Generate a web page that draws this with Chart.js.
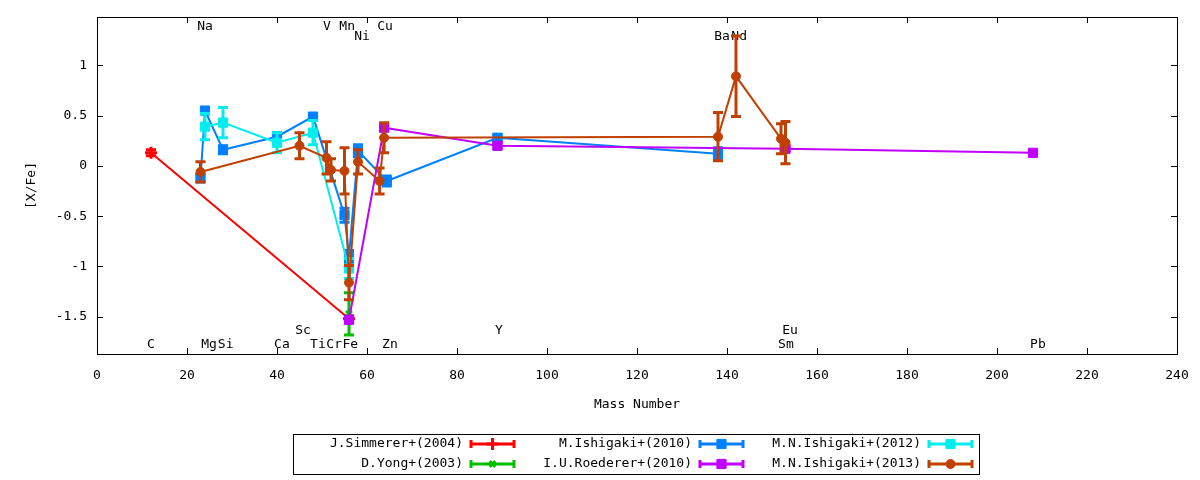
<!DOCTYPE html>
<html>
<head>
<meta charset="utf-8">
<script src="https://cdn.jsdelivr.net/npm/chart.js@4.4.1/dist/chart.umd.min.js"></script>
<style>
  html, body { margin: 0; padding: 0; background: #fff; }
  #wrap { width: 1200px; height: 480px; position: relative; }
</style>
</head>
<body>
<div id="wrap"><canvas id="chart"></canvas></div>
<script>
const FONT = "'DejaVu Sans Mono', monospace";

// axes
const X_TICKS = [0, 20, 40, 60, 80, 100, 120, 140, 160, 180, 200, 220, 240];
const Y_TICKS = [-1.5, -1, -0.5, 0, 0.5, 1];

// element names written over the plot (mass, level)
const ELEM_NAMES = ['C', 'Mg', 'Si', 'Na', 'Ca', 'Sc', 'Ti', 'Cr', 'Fe', 'V', 'Mn', 'Ni', 'Cu', 'Zn', 'Y', 'Ba', 'Nd', 'Eu', 'Sm', 'Pb'];
const ELEM_X     = [12, 24.9, 28.6, 24, 41.1, 45.8, 49.1, 52.7, 56.3, 51.1, 55.6, 58.9, 64, 65.1, 89.3, 138.9, 142.7, 154, 153.1, 209.1];
const ELEM_Y     = [-1.78, -1.78, -1.78, 1.38, -1.78, -1.64, -1.78, -1.78, -1.78, 1.38, 1.38, 1.28, 1.38, -1.78, -1.64, 1.28, 1.28, -1.64, -1.78, -1.78];

// series
const SIMMERER_X   = [12, 56];
const SIMMERER_Y   = [0.13, -1.52];
const SIMMERER_ERR = [0.03, 0.03];

const YONG_X   = [56];
const YONG_Y   = [-1.47];
const YONG_ERR = [0.21];

const ISHIGAKI10_X   = [23, 24, 28, 40, 48, 55, 56, 58, 64.4, 89, 138];
const ISHIGAKI10_Y   = [-0.12, 0.55, 0.16, 0.29, 0.49, -0.49, -0.9, 0.15, -0.15, 0.28, 0.12];
const ISHIGAKI10_ERR = [0.04, 0.03, 0.04, 0.04, 0.03, 0.07, 0.06, 0.06, 0.05, 0.03, 0.06];

const ROEDERER_X   = [56, 63.8, 89, 153, 208];
const ROEDERER_Y   = [-1.53, 0.38, 0.2, 0.17, 0.13];
const ROEDERER_ERR = [0.03, 0.03, 0.03, 0.02, 0.02];

const ISHIGAKI12_X   = [24, 28, 40, 48, 56];
const ISHIGAKI12_Y   = [0.39, 0.43, 0.23, 0.33, -1.02];
const ISHIGAKI12_ERR = [0.13, 0.15, 0.1, 0.12, 0.1];

const ISHIGAKI13_X   = [23, 45, 51, 52, 55, 56, 58, 62.8, 63.8, 138, 142, 152, 153];
const ISHIGAKI13_Y   = [-0.06, 0.2, 0.08, -0.04, -0.05, -1.16, 0.04, -0.15, 0.28, 0.29, 0.89, 0.27, 0.23];
const ISHIGAKI13_ERR = [0.1, 0.13, 0.16, 0.11, 0.23, 0.17, 0.12, 0.13, 0.15, 0.24, 0.4, 0.15, 0.21];

function series(label, color, style, radius, xs, ys, errs) {
    return {
        label,
        data: xs.map((x, i) => ({ x, y: ys[i] })),
        errors: errs,
        showLine: true,
        borderColor: color,
        backgroundColor: color,
        borderWidth: 2,
        pointStyle: style,
        pointRadius: radius,
        pointBorderWidth: style === 'cross' || style === 'crossRot' ? 3 : 1,
        tension: 0,
    };
}

const datasets = [
    series('J.Simmerer+(2004)',   '#ff0000', 'cross',    6,   SIMMERER_X,   SIMMERER_Y,   SIMMERER_ERR),
    series('D.Yong+(2003)',       '#00c000', 'crossRot', 4,   YONG_X,       YONG_Y,       YONG_ERR),
    series('M.Ishigaki+(2010)',   '#0080ff', 'rect',     6.5, ISHIGAKI10_X, ISHIGAKI10_Y, ISHIGAKI10_ERR),
    series('I.U.Roederer+(2010)', '#c000ff', 'rect',     6.5, ROEDERER_X,   ROEDERER_Y,   ROEDERER_ERR),
    series('M.N.Ishigaki+(2012)', '#00eeee', 'rect',     6.5, ISHIGAKI12_X, ISHIGAKI12_Y, ISHIGAKI12_ERR),
    series('M.N.Ishigaki+(2013)', '#c04000', 'circle',   4.5, ISHIGAKI13_X, ISHIGAKI13_Y, ISHIGAKI13_ERR),
];
// later series are painted on top, like gnuplot does
datasets.forEach((d, i) => { d.order = datasets.length - i; });

// --- error bars, drawn with each dataset ---
const errorBars = {
    id: 'errorBars',
    afterDatasetDraw(chart, args) {
        const ds = chart.data.datasets[args.index];
        if (!ds.errors) return;
        const xs = chart.scales.x, ys = chart.scales.y, ctx = chart.ctx;
        ctx.save();
        ctx.strokeStyle = ds.borderColor;
        ctx.lineWidth = 3;
        ds.data.forEach((p, i) => {
            const e = ds.errors[i];
            const px = xs.getPixelForValue(p.x);
            const top = ys.getPixelForValue(p.y + e);
            const bot = ys.getPixelForValue(p.y - e);
            ctx.beginPath();
            ctx.moveTo(px, top); ctx.lineTo(px, bot);
            ctx.moveTo(px - 5, top); ctx.lineTo(px + 5, top);
            ctx.moveTo(px - 5, bot); ctx.lineTo(px + 5, bot);
            ctx.stroke();
        });
        ctx.restore();
    }
};

// --- frame with inward ticks on all four sides, plus element names ---
const frame = {
    id: 'frame',
    beforeDatasetsDraw(chart) {
        const { ctx, chartArea: a } = chart;
        const xs = chart.scales.x, ys = chart.scales.y;
        ctx.save();
        ctx.strokeStyle = '#000';
        ctx.lineWidth = 1;
        ctx.strokeRect(a.left + 0.5, a.top + 0.5, a.right - a.left, a.bottom - a.top);
        ctx.beginPath();
        X_TICKS.forEach(v => {
            const px = Math.round(xs.getPixelForValue(v)) + 0.5;
            ctx.moveTo(px, a.bottom); ctx.lineTo(px, a.bottom - 6);
            ctx.moveTo(px, a.top); ctx.lineTo(px, a.top + 6);
        });
        Y_TICKS.forEach(v => {
            const py = Math.round(ys.getPixelForValue(v)) + 0.5;
            ctx.moveTo(a.left, py); ctx.lineTo(a.left + 6, py);
            ctx.moveTo(a.right, py); ctx.lineTo(a.right - 6, py);
        });
        ctx.stroke();

        ctx.fillStyle = '#000';
        ctx.font = '13px ' + FONT;
        ctx.textAlign = 'center';
        ctx.textBaseline = 'middle';
        ELEM_NAMES.forEach((n, i) => {
            ctx.fillText(n, xs.getPixelForValue(ELEM_X[i]), ys.getPixelForValue(ELEM_Y[i]));
        });
        ctx.restore();
    }
};

// --- gnuplot style key below the plot ---
const key = {
    id: 'key',
    afterDraw(chart) {
        const ctx = chart.ctx;
        const boxL = 293, boxT = 434, boxR = 979, boxB = 474;
        const rowY = [444, 464];
        const colStart = 471, colPitch = 229, sampleLen = 43;
        ctx.save();
        ctx.strokeStyle = '#000';
        ctx.lineWidth = 1;
        ctx.strokeRect(boxL + 0.5, boxT + 0.5, boxR - boxL, boxB - boxT);
        ctx.font = '13px ' + FONT;
        ctx.textAlign = 'right';
        ctx.textBaseline = 'middle';
        chart.data.datasets.forEach((ds, i) => {
            const col = Math.floor(i / 2), row = i % 2;
            const sx = colStart + col * colPitch, y = rowY[row];
            ctx.fillStyle = '#000';
            ctx.fillText(ds.label, sx - 8, y);
            ctx.strokeStyle = ds.borderColor;
            ctx.fillStyle = ds.backgroundColor;
            ctx.lineWidth = 3;
            ctx.beginPath();
            ctx.moveTo(sx, y); ctx.lineTo(sx + sampleLen, y);
            ctx.moveTo(sx, y - 4); ctx.lineTo(sx, y + 4);
            ctx.moveTo(sx + sampleLen, y - 4); ctx.lineTo(sx + sampleLen, y + 4);
            ctx.stroke();
            ctx.lineWidth = ds.pointBorderWidth;
            Chart.helpers.drawPoint(ctx, {
                pointStyle: ds.pointStyle, radius: ds.pointRadius, rotation: 0, borderWidth: ds.pointBorderWidth
            }, sx + sampleLen / 2, y);
        });
        ctx.restore();
    }
};

new Chart(document.getElementById('chart'), {
    type: 'scatter',
    data: { datasets },
    plugins: [errorBars, frame, key],
    options: {
        responsive: true,
        maintainAspectRatio: false,
        animation: false,
        layout: { padding: { left: 0, right: 23, top: 17, bottom: 0 } },
        plugins: {
            legend: { display: false },
            tooltip: { enabled: false },
        },
        scales: {
            x: {
                type: 'linear',
                min: 0, max: 240,
                afterBuildTicks: s => { s.ticks = X_TICKS.map(v => ({ value: v })); },
                afterFit: s => { s.height = 126; s.paddingLeft = 0; s.paddingRight = 0; },
                grid: { display: false, drawTicks: false },
                border: { display: false },
                ticks: { color: '#000', font: { family: FONT, size: 13 }, padding: 14, maxRotation: 0 },
                title: { display: true, text: 'Mass Number', color: '#000',
                         font: { family: FONT, size: 13 }, padding: { top: 0, bottom: 68 } },
            },
            y: {
                type: 'linear',
                min: -1.87, max: 1.48,
                afterBuildTicks: s => { s.ticks = Y_TICKS.map(v => ({ value: v })); },
                afterFit: s => { s.width = 97; s.paddingTop = 0; s.paddingBottom = 0; },
                grid: { display: false, drawTicks: false },
                border: { display: false },
                ticks: { color: '#000', font: { family: FONT, size: 13 }, padding: 10,
                         callback: v => String(v) },
                title: { display: true, text: '[X/Fe]', color: '#000',
                         font: { family: FONT, size: 13 }, padding: { top: 24, bottom: 0 } },
            }
        }
    }
});
</script>
</body>
</html>
